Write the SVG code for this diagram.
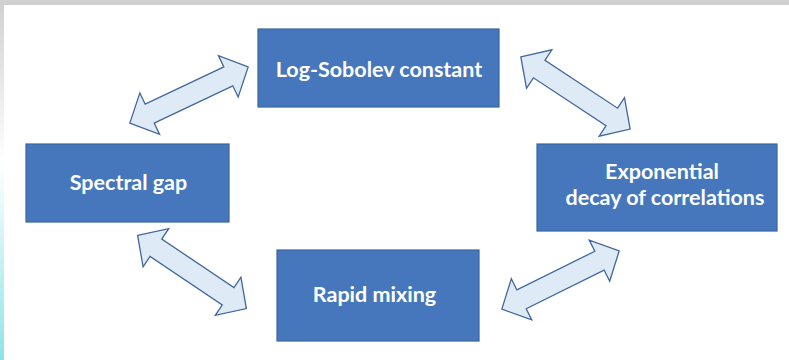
<svg xmlns="http://www.w3.org/2000/svg" width="789" height="360" viewBox="0 0 789 360">
<defs>
<linearGradient id="edge" x1="0" y1="0" x2="0" y2="1">
<stop offset="0" stop-color="#d0d0d0"/>
<stop offset="0.45" stop-color="#ffffff"/>
<stop offset="1" stop-color="#8ee3e8"/>
</linearGradient>
<path id="dbl" d="M-65.5,0 L-43.5,-23 L-43.5,-10.5 L43.5,-10.5 L43.5,-23 L65.5,0 L43.5,23 L43.5,10.5 L-43.5,10.5 L-43.5,23 Z"/>
</defs>
<style>
.box{fill:#4677bd;stroke:#3a65a0;stroke-width:1.2}
.lbl{fill:#ffffff;font-family:Lato,"Open Sans","Liberation Sans",sans-serif;font-weight:bold;font-size:21.5px;text-anchor:middle}
.arr{fill:#deeaf6;stroke:#41679c;stroke-width:1.3;stroke-linejoin:miter}
</style>
<rect x="0" y="0" width="789" height="360" fill="#ffffff"/>
<rect x="0" y="0" width="789" height="5" fill="#d0d0d0"/>
<rect x="0" y="0" width="4" height="360" fill="url(#edge)"/>
<g id="connectors">
<use href="#dbl" class="arr" transform="translate(189,95) rotate(-25.4)"/>
<use href="#dbl" class="arr" transform="translate(575.5,93) rotate(33.4)"/>
<use href="#dbl" class="arr" transform="translate(192,272) rotate(33.9)"/>
<use href="#dbl" class="arr" transform="translate(560.5,280) rotate(-26.4)"/>
</g>
<g id="logsobolev">
<rect class="box" x="258" y="29" width="241" height="78"/>
<text class="lbl" x="379" y="77">Log-Sobolev constant</text>
</g>
<g id="spectralgap">
<rect class="box" x="26" y="144" width="203" height="78"/>
<text class="lbl" x="128.5" y="190">Spectral gap</text>
</g>
<g id="rapidmixing">
<rect class="box" x="277" y="250" width="202" height="91"/>
<text class="lbl" x="374.5" y="302">Rapid mixing</text>
</g>
<g id="exponential">
<rect class="box" x="537" y="144" width="240" height="87"/>
<text class="lbl" x="662" y="179">Exponential</text>
<text class="lbl" x="665" y="205">decay of correlations</text>
</g>
</svg>
